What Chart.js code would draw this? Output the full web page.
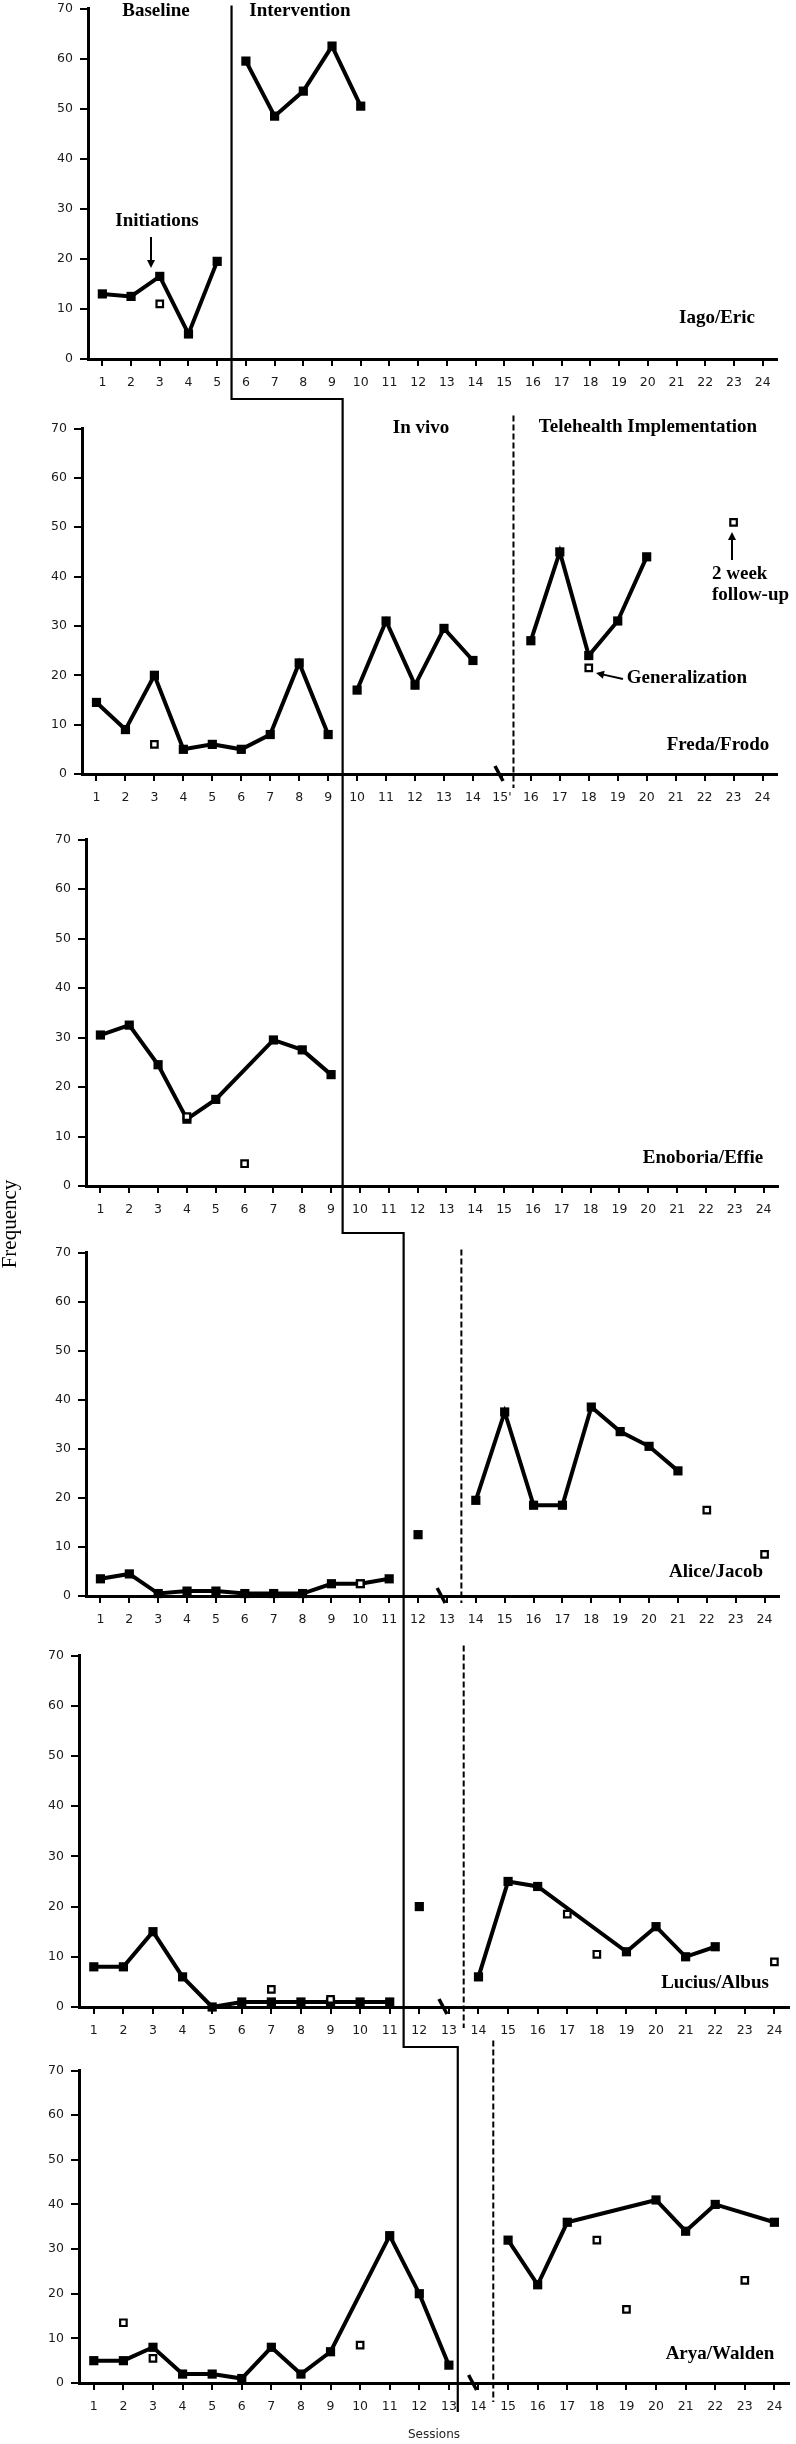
<!DOCTYPE html>
<html>
<head>
<meta charset="utf-8">
<title>Initiation frequency across sessions</title>
<script src="https://cdn.jsdelivr.net/npm/chart.js@4.4.1/dist/chart.umd.min.js"></script>
<style>
  html, body { margin: 0; padding: 0; background: #fff; }
  body { width: 796px; height: 2444px; position: relative; overflow: hidden; }
  .panel { position: absolute; left: 0; }
  #overlay { position: absolute; left: 0; top: 0; z-index: 2; pointer-events: none; }
</style>
</head>
<body>
<canvas id="overlay"></canvas>
<script>
// Axis ticks
const sessionTicks = [1, 2, 3, 4, 5, 6, 7, 8, 9, 10, 11, 12, 13, 14, 15, 16, 17, 18, 19, 20, 21, 22, 23, 24];
const sessionLabels = sessionTicks.map(String);
const fredaLabels = sessionTicks.map(s => s === 15 ? "15'" : String(s));
const freqTicks = [0, 10, 20, 30, 40, 50, 60, 70];

// Iago/Eric
const iagoBaseX = [1, 2, 3, 4, 5];
const iagoBaseY = [13, 12.5, 16.5, 5, 19.5];
const iagoTreatX = [6, 7, 8, 9, 10];
const iagoTreatY = [59.5, 48.5, 53.5, 62.5, 50.5];
const iagoOpenX = [3];
const iagoOpenY = [11];

// Freda/Frodo
const fredaBaseX = [1, 2, 3, 4, 5, 6, 7, 8, 9];
const fredaBaseY = [14.5, 9, 20, 5, 6, 5, 8, 22.5, 8];
const fredaVivoX = [10, 11, 12, 13, 14];
const fredaVivoY = [17, 31, 18, 29.5, 23];
const fredaTeleX = [16, 17, 18, 19, 20];
const fredaTeleY = [27, 45, 24, 31, 44];
const fredaOpenX = [3, 18, 23];
const fredaOpenY = [6, 21.5, 51];

// Enoboria/Effie
const enoBaseX = [1, 2, 3, 4, 5, 7, 8, 9];
const enoBaseY = [30.5, 32.5, 24.5, 13.5, 17.5, 29.5, 27.5, 22.5];
const enoOpenX = [4, 6];
const enoOpenY = [14, 4.5];

// Alice/Jacob
const aliceBaseX = [1, 2, 3, 4, 5, 6, 7, 8, 9, 10, 11];
const aliceBaseY = [3.5, 4.5, 0.5, 1, 1, 0.5, 0.5, 0.5, 2.5, 2.5, 3.5];
const aliceVivoX = [12];
const aliceVivoY = [12.5];
const aliceTeleX = [14, 15, 16, 17, 18, 19, 20, 21];
const aliceTeleY = [19.5, 37.5, 18.5, 18.5, 38.5, 33.5, 30.5, 25.5];
const aliceOpenX = [10, 22, 24];
const aliceOpenY = [2.5, 17.5, 8.5];

// Lucius/Albus
const luciusBaseX = [1, 2, 3, 4, 5, 6, 7, 8, 9, 10, 11];
const luciusBaseY = [8, 8, 15, 6, 0, 1, 1, 1, 1, 1, 1];
const luciusVivoX = [12];
const luciusVivoY = [20];
const luciusTeleX = [14, 15, 16, 19, 20, 21, 22];
const luciusTeleY = [6, 25, 24, 11, 16, 10, 12];
const luciusOpenX = [7, 9, 17, 18, 24];
const luciusOpenY = [3.5, 1.5, 18.5, 10.5, 9];

// Arya/Walden
const aryaBaseX = [1, 2, 3, 4, 5, 6, 7, 8, 9, 11, 12, 13];
const aryaBaseY = [5, 5, 8, 2, 2, 1, 8, 2, 7, 33, 20, 4];
const aryaTeleX = [15, 16, 17, 20, 21, 22, 24];
const aryaTeleY = [32, 22, 36, 41, 34, 40, 36];
const aryaOpenX = [2, 3, 10, 18, 19, 23];
const aryaOpenY = [13.5, 5.5, 8.5, 32, 16.5, 23];

// Phase changes (session positions)
const stairSessions = [5.5, 9.5, 11.5, 13.3];
const dashedSessions = [null, 15.4, null, 13.5, 13.5, 14.5];
const breakSessions = [null, 14.9, null, 12.8, 12.8, 13.8];

// Page layout of each panel's plot area
const panels = [
    { axisX: 88, axisEnd: 777, top: 8, bottom: 359 },
    { axisX: 82, axisEnd: 777, top: 428, bottom: 774 },
    { axisX: 86, axisEnd: 778, top: 839, bottom: 1186 },
    { axisX: 86, axisEnd: 779, top: 1252, bottom: 1596 },
    { axisX: 79, axisEnd: 790, top: 1655, bottom: 2007 },
    { axisX: 79, axisEnd: 795, top: 2070, bottom: 2383 }
];
const dashExtent = [null, [13, 14], null, [3, 7], [10, 21], [30, 19]];

const PAD_TOP = 14;
const X_AXIS_H = 50;
const tickFont = { family: "'DejaVu Sans', sans-serif", size: 12.5 };
const tickColor = "#1a1a1a";

function pts(xs, ys) {
    return xs.map((x, i) => ({ x: x, y: ys[i] }));
}

function lineSet(xs, ys) {
    return {
        data: pts(xs, ys),
        showLine: true,
        borderColor: "#000",
        borderWidth: 4,
        pointStyle: "rect",
        pointRadius: 6.5,
        pointBackgroundColor: "#000",
        pointBorderWidth: 0,
        tension: 0,
        clip: false,
        order: 1
    };
}

function openSet(xs, ys) {
    return {
        data: pts(xs, ys),
        showLine: false,
        pointStyle: "rect",
        pointRadius: 4.6,
        pointBackgroundColor: "#fff",
        pointBorderColor: "#000",
        pointBorderWidth: 2.2,
        clip: false,
        order: 0
    };
}

function makePanel(geo, datasets, labels) {
    const wrapTop = geo.top - PAD_TOP;
    const h = geo.bottom - geo.top + PAD_TOP + X_AXIS_H;
    const canvas = document.createElement("canvas");
    canvas.className = "panel";
    canvas.style.top = wrapTop + "px";
    canvas.style.width = "796px";
    canvas.style.height = h + "px";
    canvas.width = 796;
    canvas.height = h;
    document.body.appendChild(canvas);

    const chart = new Chart(canvas, {
        type: "scatter",
        data: { datasets: datasets },
        options: {
            responsive: false,
            animation: false,
            events: [],
            layout: { padding: { left: 0, right: 796 - geo.axisEnd, top: PAD_TOP, bottom: 0 } },
            plugins: { legend: { display: false }, tooltip: { enabled: false } },
            scales: {
                x: {
                    type: "linear",
                    min: 0.5,
                    max: 24.5,
                    afterBuildTicks: s => { s.ticks = sessionTicks.map(v => ({ value: v })); },
                    afterFit: s => { s.height = X_AXIS_H; },
                    ticks: {
                        autoSkip: false,
                        maxRotation: 0,
                        padding: 9,
                        color: tickColor,
                        font: tickFont,
                        callback: v => labels[v - 1]
                    },
                    grid: { drawOnChartArea: false, drawTicks: true, tickLength: 7, color: "#000", lineWidth: 2 },
                    border: { color: "#000", width: 3 }
                },
                y: {
                    min: 0,
                    max: 70,
                    afterBuildTicks: s => { s.ticks = freqTicks.map(v => ({ value: v })); },
                    afterFit: s => { s.width = geo.axisX; },
                    ticks: { padding: 7, color: tickColor, font: tickFont },
                    grid: { drawOnChartArea: false, drawTicks: true, tickLength: 8, color: "#000", lineWidth: 2 },
                    border: { color: "#000", width: 3 }
                }
            }
        }
    });
    chart.$top = wrapTop;
    return chart;
}

const charts = [
    makePanel(panels[0], [openSet(iagoOpenX, iagoOpenY), lineSet(iagoBaseX, iagoBaseY), lineSet(iagoTreatX, iagoTreatY)], sessionLabels),
    makePanel(panels[1], [openSet(fredaOpenX, fredaOpenY), lineSet(fredaBaseX, fredaBaseY), lineSet(fredaVivoX, fredaVivoY), lineSet(fredaTeleX, fredaTeleY)], fredaLabels),
    makePanel(panels[2], [openSet(enoOpenX, enoOpenY), lineSet(enoBaseX, enoBaseY)], sessionLabels),
    makePanel(panels[3], [openSet(aliceOpenX, aliceOpenY), lineSet(aliceBaseX, aliceBaseY), lineSet(aliceVivoX, aliceVivoY), lineSet(aliceTeleX, aliceTeleY)], sessionLabels),
    makePanel(panels[4], [openSet(luciusOpenX, luciusOpenY), lineSet(luciusBaseX, luciusBaseY), lineSet(luciusVivoX, luciusVivoY), lineSet(luciusTeleX, luciusTeleY)], sessionLabels),
    makePanel(panels[5], [openSet(aryaOpenX, aryaOpenY), lineSet(aryaBaseX, aryaBaseY), lineSet(aryaTeleX, aryaTeleY)], sessionLabels)
];

function px(c, s) { return c.scales.x.getPixelForValue(s); }
function py(c, v) { return c.scales.y.getPixelForValue(v) + c.$top; }

// Overlay: phase lines, breaks, annotations
const ov = document.getElementById("overlay");
const dpr = window.devicePixelRatio || 1;
ov.width = 796 * dpr;
ov.height = 2444 * dpr;
ov.style.width = "796px";
ov.style.height = "2444px";
const ctx = ov.getContext("2d");
ctx.scale(dpr, dpr);

const [c1, c2, c3, c4, c5, c6] = charts;

// staircase multiple-baseline line
const stair = [
    [px(c1, stairSessions[0]), py(c1, 70) - 3],
    [px(c1, stairSessions[0]), py(c1, 0) + 40],
    [px(c2, stairSessions[1]), py(c1, 0) + 40],
    [px(c2, stairSessions[1]), py(c3, 0) + 47],
    [px(c4, stairSessions[2]), py(c3, 0) + 47],
    [px(c4, stairSessions[2]), py(c5, 0) + 40],
    [px(c6, stairSessions[3]), py(c5, 0) + 40],
    [px(c6, stairSessions[3]), py(c6, 0) + 29]
];
ctx.strokeStyle = "#000";
ctx.lineWidth = 2.2;
ctx.beginPath();
stair.forEach((p, i) => i ? ctx.lineTo(p[0], p[1]) : ctx.moveTo(p[0], p[1]));
ctx.stroke();

// dashed telehealth lines
ctx.lineWidth = 2;
ctx.setLineDash([6, 3]);
charts.forEach((c, i) => {
    if (dashedSessions[i] === null) return;
    const x = px(c, dashedSessions[i]);
    ctx.beginPath();
    ctx.moveTo(x, py(c, 70) - dashExtent[i][0]);
    ctx.lineTo(x, py(c, 0) + dashExtent[i][1]);
    ctx.stroke();
});
ctx.setLineDash([]);

// axis break marks
ctx.lineWidth = 3.5;
charts.forEach((c, i) => {
    if (breakSessions[i] === null) return;
    const x = px(c, breakSessions[i]);
    const y = py(c, 0);
    ctx.beginPath();
    ctx.moveTo(x - 4, y - 8);
    ctx.lineTo(x + 4, y + 7);
    ctx.stroke();
});

function arrow(x1, y1, x2, y2) {
    const a = Math.atan2(y2 - y1, x2 - x1);
    const hl = 8, hw = 4;
    ctx.lineWidth = 2;
    ctx.beginPath();
    ctx.moveTo(x1, y1);
    ctx.lineTo(x2 - Math.cos(a) * hl * 0.8, y2 - Math.sin(a) * hl * 0.8);
    ctx.stroke();
    ctx.beginPath();
    ctx.moveTo(x2, y2);
    ctx.lineTo(x2 - Math.cos(a) * hl - Math.sin(a) * hw, y2 - Math.sin(a) * hl + Math.cos(a) * hw);
    ctx.lineTo(x2 - Math.cos(a) * hl + Math.sin(a) * hw, y2 - Math.sin(a) * hl - Math.cos(a) * hw);
    ctx.closePath();
    ctx.fill();
}

ctx.fillStyle = "#000";
ctx.font = "bold 19px 'Liberation Serif', serif";
ctx.textAlign = "center";
ctx.textBaseline = "alphabetic";
ctx.fillText("Baseline", 156, 16);
ctx.fillText("Intervention", 300, 16);
ctx.fillText("Initiations", 157, 226);
ctx.fillText("Iago/Eric", 717, 323);
ctx.fillText("In vivo", 421, 433);
ctx.fillText("Telehealth Implementation", 648, 432);
ctx.fillText("Generalization", 687, 683);
ctx.fillText("Freda/Frodo", 718, 750);
ctx.fillText("Enoboria/Effie", 703, 1163);
ctx.fillText("Alice/Jacob", 716, 1577);
ctx.fillText("Lucius/Albus", 715, 1988);
ctx.fillText("Arya/Walden", 720, 2359);
ctx.textAlign = "left";
ctx.fillText("2 week", 712, 579);
ctx.fillText("follow-up", 712, 600);

arrow(151, 237, 151, 268);
arrow(732, 560, 732, 532);
arrow(623, 679, 596, 673);

// axis titles
ctx.font = "21px 'Liberation Serif', serif";
ctx.textAlign = "center";
ctx.textBaseline = "middle";
ctx.save();
ctx.translate(10, 1224);
ctx.rotate(-Math.PI / 2);
ctx.fillText("Frequency", 0, 0);
ctx.restore();

ctx.font = "12px 'DejaVu Sans', sans-serif";
ctx.fillStyle = "#222";
ctx.fillText("Sessions", 434, 2435);
</script>
</body>
</html>
